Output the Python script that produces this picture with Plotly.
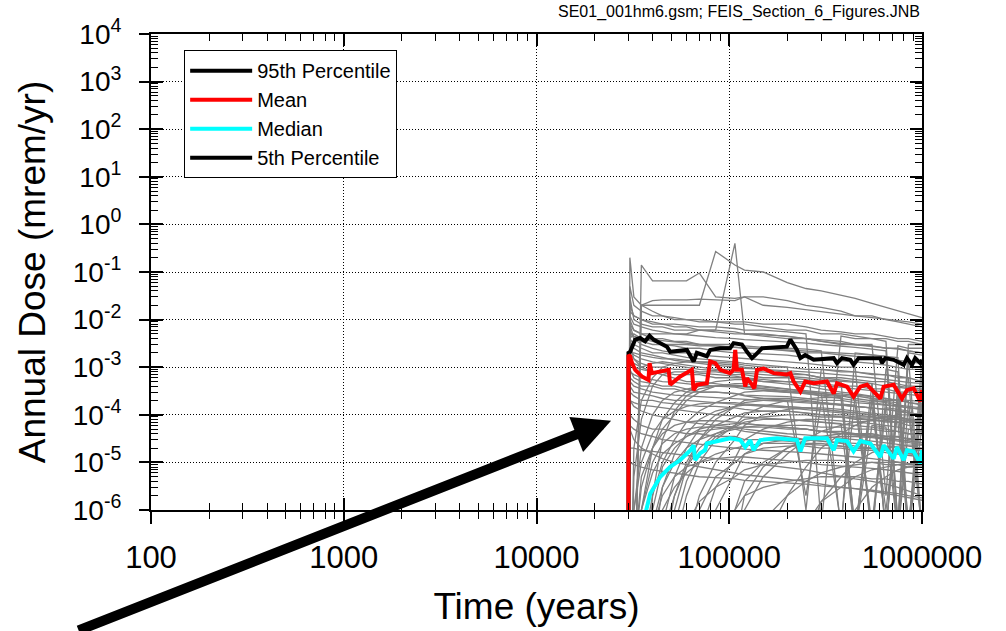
import plotly.graph_objects as go

# ---------------- data ----------------
TIME_YEARS = [30000, 30500, 32000, 35000, 40000, 45000, 52000, 60000, 70000, 85000,
              107000, 120000, 150000, 200000, 250000, 300000, 380000, 450000, 550000,
              650000, 750000, 850000, 1000000]

REALIZATIONS = [
    [1e-9, 0.2, 0.03, 0.02, 0.015, 0.012, 0.01, 0.01, 0.009, 0.009, 0.008, 0.008, 0.007, 0.006, 0.006, 0.005, 0.005, 0.0045, 0.004, 0.004, 0.0035, 0.0035, 0.003],
    [1e-9, 1e-9, 1e-9, 0.14, 0.065, 0.065, 0.065, 0.065, 0.095, 0.03, 0.028, 0.03, 0.03, 0.025, 0.02, 0.018, 0.015, 0.012, 0.012, 0.01, 0.009, 0.008, 0.007],
    [1e-9, 1e-9, 1e-9, 0.02, 0.02, 0.02, 0.02, 0.02, 0.02, 0.27, 0.14, 0.11, 0.1, 0.06, 0.045, 0.04, 0.033, 0.028, 0.022, 0.018, 0.015, 0.013, 0.011],
    [1e-9, 0.008, 0.006, 0.005, 0.005, 0.005, 0.005, 0.005, 0.006, 0.006, 0.4, 0.005, 0.0045, 0.004, 0.004, 0.0035, 0.003, 0.003, 0.0028, 0.0025, 0.0025, 0.0022, 0.002],
    [1e-9, 1e-9, 1e-9, 0.02, 0.025, 0.026, 0.026, 0.026, 0.027, 0.026, 0.025, 0.03, 0.02, 0.018, 0.016, 0.015, 0.013, 0.012, 0.011, 0.01, 0.0095, 0.009, 0.008],
    [1e-9, 0.05, 0.02, 0.015, 0.012, 0.012, 0.011, 0.01, 0.01, 0.009, 0.009, 0.009, 0.008, 0.008, 0.007, 0.006, 0.0055, 0.005, 0.005, 0.0045, 0.004, 0.004, 0.0035],
    [1e-9, 0.03, 0.01, 0.008, 0.007, 0.007, 0.006, 0.006, 0.006, 0.0055, 0.005, 0.005, 0.0048, 0.0045, 0.004, 0.0038, 0.0035, 0.003, 0.003, 2e-6, 0.0028, 0.0025, 0.0025],
    [1e-9, 0.015, 0.012, 0.01, 0.009, 0.008, 0.008, 0.0075, 0.007, 0.007, 0.0065, 0.006, 0.006, 0.0055, 0.005, 5e-7, 0.0045, 0.004, 0.004, 0.0035, 5e-7, 0.003, 0.003],
    [1e-9, 0.004, 0.005, 0.004, 0.0035, 0.003, 0.003, 0.003, 0.0028, 0.0028, 0.0026, 0.0025, 0.0025, 0.0022, 0.002, 0.002, 0.0018, 0.0017, 0.0016, 0.0015, 0.0014, 0.0013, 0.0012],
    [1e-9, 0.002, 0.002, 0.0018, 0.0016, 0.0015, 0.0015, 0.0014, 0.0013, 0.0013, 0.0012, 0.0011, 0.001, 0.001, 0.0009, 0.0009, 0.0008, 0.0008, 0.0007, 0.0007, 0.0006, 0.0006, 0.0005],
    [1e-9, 0.0012, 0.001, 0.0009, 0.0008, 0.0008, 0.0007, 0.0007, 0.0007, 0.0006, 0.0006, 0.0006, 0.0005, 0.0005, 0.0005, 0.00045, 0.0004, 0.0004, 0.00035, 0.00035, 0.0003, 0.0003, 0.0003],
    [1e-9, 0.0006, 0.0005, 0.0004, 0.0004, 0.00035, 0.00035, 0.0003, 0.0003, 0.0003, 0.00028, 0.00026, 0.00025, 0.00024, 0.00022, 0.0002, 0.0002, 0.00018, 0.00017, 0.00016, 0.00015, 0.00014, 0.00013],
    [1e-9, 0.0003, 0.00025, 0.0002, 0.0002, 0.00018, 0.00017, 0.00016, 0.00015, 0.00015, 0.00014, 0.00013, 0.00012, 0.00012, 0.00011, 0.0001, 0.0001, 9e-5, 9e-5, 8e-5, 8e-5, 7e-5, 7e-5],
    [1e-9, 1e-9, 1e-6, 1e-5, 4e-5, 8e-5, 1.2e-4, 1.5e-4, 1.7e-4, 1.8e-4, 1.8e-4, 1.7e-4, 1.6e-4, 1.5e-4, 1.4e-4, 1.3e-4, 1.2e-4, 1.1e-4, 1e-4, 9e-5, 9e-5, 8e-5, 8e-5],
    [1e-9, 1e-9, 1e-9, 1e-6, 6e-6, 1.5e-5, 2.5e-5, 3.5e-5, 4.5e-5, 5e-5, 5.5e-5, 5.5e-5, 5.5e-5, 5e-5, 5e-5, 4.5e-5, 4.5e-5, 4e-5, 4e-5, 3.5e-5, 3.5e-5, 3e-5, 3e-5],
    [1e-9, 1e-9, 1e-9, 1e-9, 1e-7, 1e-6, 3e-6, 6e-6, 1e-5, 1.5e-5, 2e-5, 2.2e-5, 2.5e-5, 2.5e-5, 2.4e-5, 2.3e-5, 2.2e-5, 2e-5, 2e-5, 1.8e-5, 1.7e-5, 1.6e-5, 1.5e-5],
    [1e-9, 1e-9, 1e-9, 1e-9, 1e-9, 1e-8, 1e-7, 5e-7, 1.5e-6, 3e-6, 5e-6, 7e-6, 9e-6, 1e-5, 1.1e-5, 1.1e-5, 1.1e-5, 1e-5, 1e-5, 9e-6, 9e-6, 8e-6, 8e-6],
    [1e-9, 1e-9, 1e-9, 1e-9, 1e-9, 1e-9, 1e-9, 1e-8, 1e-7, 5e-7, 1e-6, 2e-6, 3e-6, 4e-6, 4.5e-6, 5e-6, 5e-6, 5e-6, 4.5e-6, 4.5e-6, 4e-6, 4e-6, 3.5e-6],
    [1e-9, 1e-9, 1e-7, 5e-6, 2e-5, 5e-5, 1e-4, 2e-4, 3e-4, 4e-4, 4.5e-4, 4.5e-4, 4e-4, 3.5e-4, 3e-4, 2.8e-4, 2.5e-4, 2.2e-4, 2e-4, 1.8e-4, 1.6e-4, 1.5e-4, 1.4e-4],
    [1e-9, 1e-9, 1e-9, 1e-7, 2e-6, 1e-5, 3e-5, 7e-5, 1.2e-4, 1.8e-4, 2.5e-4, 3e-4, 3.2e-4, 3e-4, 2.8e-4, 2.5e-4, 2.2e-4, 2e-4, 1.8e-4, 1.6e-4, 1.5e-4, 1.4e-4, 1.3e-4],
    [1e-9, 1e-9, 1e-9, 1e-9, 1e-8, 3e-7, 2e-6, 8e-6, 2e-5, 4e-5, 6e-5, 8e-5, 9e-5, 1e-4, 1e-4, 9e-5, 9e-5, 8e-5, 8e-5, 7e-5, 7e-5, 6e-5, 6e-5],
    [1e-9, 0.0009, 0.0006, 0.0005, 0.00045, 0.0004, 0.0004, 0.00035, 0.0003, 0.0003, 0.00028, 0.00025, 0.00022, 0.0002, 2e-6, 0.00018, 0.00016, 0.00015, 0.00014, 1e-6, 0.00012, 0.00011, 0.0001],
    [1e-9, 0.003, 0.0015, 0.001, 0.0008, 0.0007, 0.0006, 0.0005, 0.0005, 0.00045, 0.0004, 0.0004, 0.00035, 0.0003, 0.0003, 0.00028, 5e-7, 0.00025, 0.00022, 0.0002, 0.0002, 5e-7, 0.00018],
    [1e-9, 1e-4, 8e-5, 6e-5, 5e-5, 5e-5, 4.5e-5, 4e-5, 4e-5, 3.5e-5, 3.5e-5, 3e-5, 3e-5, 2.8e-5, 2.5e-5, 2.5e-5, 2.2e-5, 2e-5, 2e-5, 1.8e-5, 1.7e-5, 1.6e-5, 1.5e-5],
    [1e-9, 5e-5, 3e-5, 2e-5, 1.5e-5, 1.2e-5, 1e-5, 9e-6, 8e-6, 7e-6, 6e-6, 5.5e-6, 5e-6, 4.5e-6, 4e-6, 3.5e-6, 3e-6, 2.8e-6, 2.5e-6, 2.2e-6, 2e-6, 1.8e-6, 1.6e-6],
    [1e-9, 1e-9, 1e-9, 1e-9, 1e-9, 1e-9, 1e-8, 2e-7, 2e-6, 1e-5, 3e-5, 6e-5, 1e-4, 1.3e-4, 1.4e-4, 1.4e-4, 1.3e-4, 1.2e-4, 1.1e-4, 1e-4, 9e-5, 8e-5, 7e-5],
    [1e-9, 1e-9, 1e-9, 1e-9, 1e-9, 1e-9, 1e-9, 1e-9, 1e-8, 1e-7, 1e-6, 4e-6, 1e-5, 2e-5, 2.8e-5, 3.2e-5, 3.5e-5, 3.5e-5, 3.3e-5, 3e-5, 2.8e-5, 2.6e-5, 2.4e-5],
    [1e-9, 1e-9, 1e-9, 1e-9, 1e-9, 1e-9, 1e-9, 1e-9, 1e-9, 1e-9, 1e-8, 1e-7, 6e-7, 2e-6, 4e-6, 6e-6, 8e-6, 9e-6, 1e-5, 1e-5, 1e-5, 9e-6, 9e-6],
    [1e-9, 0.006, 0.004, 0.0035, 0.003, 0.003, 0.0028, 0.0025, 0.0025, 0.0022, 0.002, 0.002, 0.0019, 0.0018, 0.0016, 0.0015, 0.0014, 0.0013, 0.0012, 0.0011, 0.001, 0.0009, 0.0009],
    [1e-9, 1e-9, 2e-5, 2e-4, 6e-4, 1e-3, 1.2e-3, 1.3e-3, 1.3e-3, 1.2e-3, 1.1e-3, 1e-3, 9e-4, 8e-4, 7e-4, 6e-4, 5.5e-4, 5e-4, 4.5e-4, 4e-4, 3.8e-4, 3.5e-4, 3.2e-4],
    [1e-9, 0.002, 0.0015, 0.0012, 0.001, 0.001, 0.0009, 0.0009, 0.0008, 0.0008, 0.0007, 0.0007, 0.0006, 0.0006, 0.00055, 0.0005, 0.0005, 3e-7, 0.00045, 3e-7, 0.0004, 3e-7, 0.00035],
    [1e-9, 1e-9, 1e-9, 1e-9, 1e-9, 1e-8, 2e-7, 2e-6, 1e-5, 3e-5, 6e-5, 1e-4, 1.5e-4, 2e-4, 2.2e-4, 2.3e-4, 2.3e-4, 3e-7, 2.2e-4, 2e-4, 3e-7, 1.8e-4, 1.7e-4],
    [1e-9, 2e-5, 2e-5, 1.8e-5, 1.7e-5, 1.6e-5, 1.5e-5, 1.4e-5, 1.3e-5, 1.2e-5, 1.1e-5, 1e-5, 9e-6, 8e-6, 7e-6, 6e-6, 5e-6, 4.5e-6, 4e-6, 3.5e-6, 3e-6, 2.5e-6, 2e-6],
    [1e-9, 1e-9, 1e-9, 1e-9, 1e-9, 1e-9, 1e-9, 1e-9, 1e-9, 1e-8, 1e-7, 1e-6, 5e-6, 1.5e-5, 3e-5, 4.5e-5, 6e-5, 7e-5, 7.5e-5, 7.5e-5, 7e-5, 7e-5, 6.5e-5],
    [1e-9, 1e-9, 1e-9, 1e-9, 1e-9, 1e-9, 1e-9, 1e-9, 1e-9, 1e-9, 1e-9, 1e-9, 1e-8, 1e-7, 5e-7, 1.5e-6, 3e-6, 5e-6, 7e-6, 8e-6, 9e-6, 9e-6, 9e-6],
    [1e-9, 0.01, 0.006, 0.005, 0.004, 0.004, 0.0035, 0.0035, 0.003, 0.003, 0.003, 0.0028, 0.0026, 0.0025, 0.0024, 0.0022, 4e-7, 0.002, 0.0018, 0.0017, 4e-7, 0.0016, 4e-7],
    [1e-9, 1e-9, 1e-6, 2e-5, 1e-4, 2e-4, 3e-4, 3.5e-4, 4e-4, 4e-4, 4e-4, 3.8e-4, 3.5e-4, 3.2e-4, 3e-4, 2.8e-4, 2.6e-4, 2.4e-4, 5e-7, 2.2e-4, 2e-4, 1.9e-4, 5e-7],
    [1e-9, 1e-9, 1e-9, 1e-8, 5e-7, 3e-6, 1e-5, 2e-5, 3e-5, 4e-5, 5e-5, 5.5e-5, 6e-5, 6e-5, 6e-5, 5.5e-5, 5.5e-5, 5e-5, 5e-5, 4.5e-5, 4.5e-5, 4e-5, 4e-5],
    [1e-9, 0.02, 0.012, 0.01, 0.008, 0.008, 0.007, 0.007, 0.006, 0.006, 0.0055, 0.005, 0.005, 0.0045, 0.004, 0.0035, 0.0032, 0.003, 0.0028, 0.0026, 0.0024, 0.0022, 0.002],
    [1e-9, 1e-9, 1e-9, 1e-9, 1e-9, 1e-9, 1e-9, 1e-7, 1e-6, 5e-6, 1e-5, 1.5e-5, 2e-5, 2.2e-5, 2.2e-5, 2e-5, 2e-5, 1.8e-5, 1.8e-5, 1.6e-5, 1.5e-5, 1.4e-5, 1.3e-5],
    [1e-9, 0.008, 0.004, 0.003, 0.0025, 0.0022, 0.002, 0.002, 0.0018, 0.0017, 0.0016, 0.0015, 0.0014, 0.0013, 0.0012, 0.0011, 0.001, 0.001, 2e-7, 0.0009, 0.0008, 2e-7, 0.0007],
    [1e-9, 0.0015, 0.0012, 0.001, 0.0012, 0.0013, 0.0012, 0.0011, 0.001, 0.0009, 0.0009, 0.0008, 0.0008, 0.0007, 0.0007, 0.0006, 0.0006, 0.00055, 0.0005, 0.0005, 0.00045, 0.0004, 0.0004],
    [1e-9, 0.0004, 0.0003, 0.00028, 0.00025, 0.00022, 0.0002, 0.0002, 0.00019, 0.00018, 0.00017, 0.00016, 0.00015, 0.00014, 0.00013, 0.00012, 0.00011, 0.0001, 9e-5, 8.5e-5, 8e-5, 7.5e-5, 7e-5],
    [1e-9, 1e-9, 5e-6, 8e-5, 4e-4, 7e-4, 8e-4, 8e-4, 7.5e-4, 7e-4, 6.5e-4, 6e-4, 5.5e-4, 5e-4, 4.5e-4, 4e-4, 3.8e-4, 3.5e-4, 3.2e-4, 3e-4, 2.8e-4, 2.6e-4, 2.5e-4],
    [1e-9, 1e-9, 1e-9, 1e-6, 2e-5, 8e-5, 1.8e-4, 3e-4, 4e-4, 5e-4, 5.5e-4, 5.5e-4, 5e-4, 4.5e-4, 4e-4, 3.5e-4, 3e-4, 2.8e-4, 2.5e-4, 2.2e-4, 2e-4, 1.8e-4, 1.6e-4],
    [1e-9, 1e-9, 1e-9, 1e-9, 1e-7, 3e-6, 1.5e-5, 4e-5, 8e-5, 1.2e-4, 1.5e-4, 1.6e-4, 1.6e-4, 1.5e-4, 1.4e-4, 1.3e-4, 1.2e-4, 1.1e-4, 1e-4, 9e-5, 8.5e-5, 8e-5, 7.5e-5],
    [1e-9, 1e-9, 1e-9, 1e-9, 1e-9, 1e-8, 5e-7, 4e-6, 1.5e-5, 3.5e-5, 5.5e-5, 7e-5, 8e-5, 8e-5, 7.5e-5, 7e-5, 6.5e-5, 6e-5, 5.5e-5, 5e-5, 4.5e-5, 4e-5, 3.8e-5],
    [1e-9, 2e-4, 1.5e-4, 1.2e-4, 1e-4, 9e-5, 8e-5, 7e-5, 6.5e-5, 6e-5, 5.5e-5, 5e-5, 4.5e-5, 4e-5, 3.8e-5, 3.5e-5, 3.2e-5, 3e-5, 2.8e-5, 2.6e-5, 2.4e-5, 2.2e-5, 2e-5],
    [1e-9, 1e-9, 1e-9, 1e-9, 1e-9, 1e-9, 1e-9, 1e-8, 3e-7, 3e-6, 1.2e-5, 3e-5, 5e-5, 7e-5, 8e-5, 8e-5, 7.5e-5, 7e-5, 6.5e-5, 6e-5, 5.5e-5, 5e-5, 4.5e-5],
    [1e-9, 1e-9, 1e-9, 1e-9, 1e-9, 1e-9, 1e-9, 1e-9, 1e-9, 1e-8, 2e-7, 2e-6, 8e-6, 2e-5, 3e-5, 3.5e-5, 4e-5, 4e-5, 3.8e-5, 3.6e-5, 3.4e-5, 3.2e-5, 3e-5],
    [1e-9, 0.004, 0.003, 0.0025, 0.002, 0.002, 0.0018, 0.0016, 0.0015, 0.0014, 0.0013, 0.0012, 0.0011, 0.001, 1e-6, 0.0009, 0.00085, 0.0008, 0.00075, 0.0007, 0.00065, 0.0006, 3e-7],
    [1e-9, 0.0008, 0.0007, 0.0006, 0.00055, 0.0005, 0.00048, 0.00045, 0.00042, 0.0004, 0.00038, 0.00035, 0.00033, 0.0003, 0.00028, 0.00026, 0.00024, 4e-7, 0.0002, 0.00019, 0.00018, 4e-7, 0.00016],
    [1e-9, 1e-9, 1e-7, 3e-6, 2e-5, 4e-5, 6e-5, 7e-5, 7.5e-5, 7.5e-5, 7e-5, 6.5e-5, 6e-5, 5.5e-5, 5e-5, 4.5e-5, 4e-5, 3.8e-5, 3.5e-5, 3.2e-5, 3e-5, 2.8e-5, 2.6e-5],
    [1e-9, 1e-9, 1e-9, 1e-8, 4e-7, 2e-6, 5e-6, 8e-6, 1e-5, 1.2e-5, 1.3e-5, 1.3e-5, 1.2e-5, 1.1e-5, 1e-5, 9e-6, 8.5e-6, 8e-6, 7.5e-6, 7e-6, 6.5e-6, 6e-6, 5.5e-6],
    [1e-9, 0.0025, 0.0018, 0.0015, 0.0013, 0.0012, 0.0011, 0.001, 0.0009, 0.00085, 0.0008, 0.00075, 0.0007, 0.00065, 0.0006, 0.00055, 0.0005, 0.00048, 0.00045, 3e-7, 0.0004, 0.00038, 0.00035],
    [1e-9, 1e-9, 1e-9, 1e-9, 1e-9, 1e-9, 1e-9, 1e-9, 1e-9, 1e-9, 1e-9, 1e-8, 2e-7, 2e-6, 8e-6, 2e-5, 4e-5, 6e-5, 8e-5, 9e-5, 1e-4, 1e-4, 1e-4],
    [1e-9, 0.012, 0.008, 0.007, 0.006, 0.0055, 0.005, 0.0048, 0.0045, 0.0042, 0.004, 0.0038, 0.0036, 0.0034, 0.0032, 0.003, 0.0028, 0.0026, 0.0024, 0.0022, 5e-7, 0.002, 0.0018],
    [1e-9, 1e-9, 1e-9, 1e-9, 1e-9, 2e-8, 1e-6, 8e-6, 3e-5, 8e-5, 1.5e-4, 2e-4, 2.2e-4, 2.2e-4, 2e-4, 1.8e-4, 1.6e-4, 1.5e-4, 1.4e-4, 1.3e-4, 1.2e-4, 1.1e-4, 1e-4],
    [1e-9, 6e-5, 5e-5, 4e-5, 3.5e-5, 3e-5, 2.8e-5, 2.6e-5, 2.4e-5, 2.2e-5, 2e-5, 1.9e-5, 1.8e-5, 1.7e-5, 1.6e-5, 1.5e-5, 1.4e-5, 1.3e-5, 1.2e-5, 1.1e-5, 1e-5, 9.5e-6, 9e-6],
    [1e-9, 1e-9, 1e-9, 1e-9, 1e-9, 1e-9, 1e-9, 1e-9, 1e-9, 1e-9, 1e-9, 1e-9, 1e-9, 1e-8, 2e-7, 1.5e-6, 5e-6, 1e-5, 1.6e-5, 2e-5, 2.2e-5, 2.3e-5, 2.3e-5],
    [1e-9, 0.0002, 0.00018, 0.00016, 0.00015, 0.00014, 0.00013, 0.00012, 0.00011, 0.0001, 9.5e-5, 9e-5, 8.5e-5, 8e-5, 7.5e-5, 7e-5, 6.5e-5, 3e-7, 6e-5, 5.5e-5, 3e-7, 5e-5, 4.5e-5],
    [1e-9, 1e-9, 1e-9, 1e-9, 2e-6, 3e-5, 1.2e-4, 2.5e-4, 3.5e-4, 4e-4, 4.2e-4, 4e-4, 3.8e-4, 3.5e-4, 3.2e-4, 3e-4, 2.8e-4, 2.6e-4, 2.4e-4, 4e-7, 2.1e-4, 2e-4, 1.9e-4],
    [1e-9, 1e-9, 1e-9, 1e-9, 1e-9, 1e-7, 2e-6, 1e-5, 3e-5, 6e-5, 9e-5, 1.1e-4, 1.2e-4, 1.2e-4, 1.1e-4, 1e-4, 9e-5, 8.5e-5, 8e-5, 7.5e-5, 7e-5, 3e-7, 6e-5],
    [1e-9, 0.0035, 0.0025, 0.002, 0.0018, 0.0016, 0.0014, 0.0013, 0.0012, 0.0011, 0.001, 0.00095, 0.0009, 0.00085, 0.0008, 0.00075, 0.0007, 0.00065, 0.0006, 0.00055, 0.0005, 0.00048, 0.00045],
    [1e-9, 1e-9, 1e-9, 1e-8, 1e-6, 8e-6, 2e-5, 3.5e-5, 5e-5, 6e-5, 6.5e-5, 6.5e-5, 6e-5, 5.5e-5, 5e-5, 4.5e-5, 4e-5, 3.8e-5, 3.5e-5, 3.2e-5, 3e-5, 2.8e-5, 2.6e-5],
    [1e-9, 1e-9, 1e-9, 1e-9, 1e-9, 1e-9, 1e-9, 1e-9, 5e-8, 1e-6, 6e-6, 1.5e-5, 2.5e-5, 3e-5, 3e-5, 2.8e-5, 2.6e-5, 2.5e-5, 2.4e-5, 2.2e-5, 2e-5, 1.9e-5, 1.8e-5],
    [1e-9, 0.005, 0.0045, 0.004, 0.0038, 0.0036, 0.0034, 0.0032, 0.003, 0.0028, 0.0026, 0.0025, 0.0024, 0.0023, 0.0022, 0.0021, 0.002, 0.0019, 0.0018, 0.0017, 0.0016, 3e-7, 0.0015],
    [1e-9, 1e-9, 1e-8, 1e-6, 1e-5, 2.5e-5, 4e-5, 5e-5, 5.5e-5, 5.5e-5, 5e-5, 4.5e-5, 4e-5, 3.5e-5, 3e-5, 2.8e-5, 2.5e-5, 2.2e-5, 2e-5, 1.8e-5, 1.6e-5, 1.5e-5, 1.4e-5],
    [1e-9, 1e-9, 1e-9, 1e-9, 1e-9, 1e-9, 1e-9, 1e-9, 1e-9, 1e-9, 1e-9, 1e-9, 1e-9, 1e-9, 1e-9, 1e-8, 2e-7, 1e-6, 3e-6, 5e-6, 7e-6, 8e-6, 9e-6],
    [1e-9, 0.0005, 0.0004, 0.00035, 0.0003, 0.00028, 0.00026, 0.00025, 0.00024, 0.00023, 0.00022, 0.00021, 0.0002, 0.00019, 0.00018, 0.00017, 0.00016, 0.00015, 0.00014, 0.00013, 0.00012, 0.00011, 0.0001],
    [1e-9, 1e-9, 1e-9, 1e-9, 1e-8, 5e-7, 5e-6, 2e-5, 5e-5, 1e-4, 1.5e-4, 1.8e-4, 2e-4, 2e-4, 1.9e-4, 1.8e-4, 1.7e-4, 1.6e-4, 4e-7, 1.4e-4, 1.3e-4, 1.2e-4, 4e-7],
    [1e-9, 1e-5, 9e-6, 8e-6, 7e-6, 6.5e-6, 6e-6, 5.5e-6, 5e-6, 4.8e-6, 4.5e-6, 4.2e-6, 4e-6, 3.8e-6, 3.5e-6, 3.2e-6, 3e-6, 2.8e-6, 2.6e-6, 2.4e-6, 2.2e-6, 2e-6, 1.8e-6],
]

P95_TIME = [30000, 30000, 30600, 32500, 34500, 36600, 38600, 40500, 43900, 47500, 49400, 60300,
            65300, 67900, 76500, 79600, 89800, 101000, 105300, 116400, 123600, 131200, 136500,
            147900, 199000, 207500, 224400, 233900, 247700, 274200, 348300, 362200, 384600,
            424600, 441600, 469000, 608100, 619700, 645000, 712800, 803500, 835600, 887200,
            922000, 980000, 1000000]
P95_DOSE = [1e-9, 2.0e-3, 2.1e-3, 3.8e-3, 4.1e-3, 3.5e-3, 4.6e-3, 3.8e-3, 3.2e-3, 2.7e-3, 2.1e-3, 2.3e-3,
            1.32e-3, 2.0e-3, 1.7e-3, 2.3e-3, 2.5e-3, 2.5e-3, 3.2e-3, 3.0e-3, 2.1e-3, 1.55e-3, 1.8e-3,
            2.5e-3, 2.7e-3, 3.8e-3, 2.3e-3, 1.55e-3, 1.8e-3, 1.43e-3, 1.55e-3, 1.22e-3, 1.55e-3,
            1.43e-3, 1.12e-3, 1.55e-3, 1.55e-3, 1.22e-3, 1.55e-3, 1.43e-3, 1.12e-3, 1.55e-3, 1.12e-3,
            1.55e-3, 1.22e-3, 1.43e-3]

MEAN_TIME = [30000, 30000, 30600, 31300, 32500, 35200, 38100, 38600, 39700, 43900, 48500, 49400,
             52500, 55700, 64000, 65300, 67900, 76500, 79600, 84600, 89800, 101000, 105300, 107400,
             109600, 116400, 121100, 123600, 131200, 134900, 139300, 150700, 169900, 199000, 207500,
             215900, 233900, 247700, 274200, 321300, 348300, 362200, 408300, 441600, 478600, 518400,
             608100, 632400, 712800, 787000, 835600, 905000, 980000, 1000000]
MEAN_DOSE = [1e-9, 1.8e-3, 1.7e-3, 1.22e-3, 8.8e-4, 6.4e-4, 5.4e-4, 1.22e-3, 7.5e-4, 8.1e-4, 8.8e-4, 4.3e-4,
             5.4e-4, 6.4e-4, 8.8e-4, 3.3e-4, 4.3e-4, 4.6e-4, 1.32e-3, 1.22e-3, 8.8e-4, 7.5e-4, 8.8e-4, 2.3e-3,
             8.8e-4, 8.8e-4, 3.9e-4, 5.9e-4, 4.3e-4, 3.6e-4, 8.8e-4, 9.4e-4, 7.5e-4, 7e-4, 7.5e-4,
             5e-4, 3.1e-4, 5e-4, 4.6e-4, 5e-4, 2.8e-4, 4.6e-4, 3.9e-4, 2.4e-4, 3.9e-4, 4.3e-4,
             2.2e-4, 3.9e-4, 4.3e-4, 2.2e-4, 3.3e-4, 3.6e-4, 1.9e-4, 3.3e-4]

MEDIAN_TIME = [36600, 38900, 43900, 49400, 55700, 62900, 65300, 66600, 70600, 74900, 76500, 89800,
               101000, 114000, 121100, 128500, 133700, 144800, 176700, 224400, 233900, 247700, 321300,
               348300, 362200, 408300, 441600, 478600, 539900, 608100, 632400, 712800, 741300, 803500,
               835600, 905000, 980000, 1000000]
MEDIAN_DOSE = [8e-7, 2.2e-6, 5.0e-6, 8.1e-6, 1.12e-5, 1.8e-5, 2.3e-5, 1.12e-5, 1.55e-5, 1.8e-5, 2.5e-5, 2.95e-5,
               3.2e-5, 2.95e-5, 2.1e-5, 2.95e-5, 1.8e-5, 2.95e-5, 3.2e-5, 2.95e-5, 1.7e-5, 3.2e-5, 3.2e-5,
               1.8e-5, 2.95e-5, 2.8e-5, 1.7e-5, 2.8e-5, 2.5e-5, 1.3e-5, 2.3e-5, 1.2e-5, 2.1e-5, 1.12e-5,
               1.8e-5, 1.7e-5, 9.5e-6, 1.8e-5]

# 5th percentile lies entirely below the plotted range
P05_TIME = [30000, 1000000]
P05_DOSE = [1e-8, 1e-8]

X_TICKS = [100, 1000, 10000, 100000, 1000000]
X_TICK_LABELS = ["100", "1000", "10000", "100000", "1000000"]
Y_TICKS = [1e-6, 1e-5, 1e-4, 1e-3, 1e-2, 1e-1, 1e0, 1e1, 1e2, 1e3, 1e4]
Y_TICK_LABELS = ["10<sup>-6</sup>", "10<sup>-5</sup>", "10<sup>-4</sup>", "10<sup>-3</sup>",
                 "10<sup>-2</sup>", "10<sup>-1</sup>", "10<sup>0</sup>", "10<sup>1</sup>",
                 "10<sup>2</sup>", "10<sup>3</sup>", "10<sup>4</sup>"]

FONT = "Arial, 'Liberation Sans', sans-serif"

fig = go.Figure()

for dose in REALIZATIONS:
    fig.add_trace(go.Scatter(x=TIME_YEARS, y=dose, mode="lines",
                             line=dict(color="#808080", width=1.3),
                             showlegend=False, hoverinfo="skip"))

fig.add_trace(go.Scatter(x=P95_TIME, y=P95_DOSE, mode="lines", name="95th Percentile",
                         line=dict(color="black", width=4)))
fig.add_trace(go.Scatter(x=MEAN_TIME, y=MEAN_DOSE, mode="lines", name="Mean",
                         line=dict(color="#ff0000", width=4)))
fig.add_trace(go.Scatter(x=MEDIAN_TIME, y=MEDIAN_DOSE, mode="lines", name="Median",
                         line=dict(color="#00ffff", width=4)))
fig.add_trace(go.Scatter(x=P05_TIME, y=P05_DOSE, mode="lines", name="5th Percentile",
                         line=dict(color="black", width=4)))

# empty helper traces so the inner-tick overlay axes get drawn
fig.add_trace(go.Scatter(x=[None], y=[None], xaxis="x2", yaxis="y",
                         showlegend=False, hoverinfo="skip"))
fig.add_trace(go.Scatter(x=[None], y=[None], xaxis="x", yaxis="y2",
                         showlegend=False, hoverinfo="skip"))

fig.update_layout(
    width=1006, height=631,
    margin=dict(l=151, r=84, t=34, b=121),
    plot_bgcolor="white", paper_bgcolor="white",
    font=dict(family=FONT, color="black"),
    xaxis=dict(
        type="log", range=[2, 6], automargin=False,
        showline=True, linecolor="black", linewidth=2, mirror=True,
        ticks="outside", ticklen=12, tickwidth=1.5, tickcolor="black",
        tickmode="array", tickvals=X_TICKS, ticktext=X_TICK_LABELS,
        tickfont=dict(size=31), ticklabelstandoff=7,
        showgrid=True, gridcolor="black", griddash="1px,2px", gridwidth=1,
        minor=dict(ticks="outside", ticklen=7, tickwidth=1.2, tickcolor="black", dtick="D1"),
        title=dict(text="Time (years)", font=dict(size=37), standoff=19),
        zeroline=False,
    ),
    xaxis2=dict(
        type="log", range=[2, 6], overlaying="x", anchor="y", side="bottom",
        automargin=False, showline=False, showgrid=False, zeroline=False,
        showticklabels=False, mirror="ticks",
        ticks="inside", ticklen=12, tickwidth=1.5, tickcolor="black", dtick=1,
        minor=dict(ticks="inside", ticklen=7, tickwidth=1.2, tickcolor="black", dtick="D1"),
    ),
    yaxis=dict(
        type="log", range=[-6, 4], automargin=False,
        showline=True, linecolor="black", linewidth=2, mirror=True,
        ticks="outside", ticklen=10, tickwidth=1.5, tickcolor="black",
        tickmode="array", tickvals=Y_TICKS, ticktext=Y_TICK_LABELS,
        tickfont=dict(size=28), ticklabelstandoff=12,
        showgrid=True, gridcolor="black", griddash="1px,2px", gridwidth=1,
        title=dict(text="Annual Dose (mrem/yr)", font=dict(size=37), standoff=16),
        zeroline=False,
    ),
    yaxis2=dict(
        type="log", range=[-6, 4], overlaying="y", anchor="x", side="left",
        automargin=False, showline=False, showgrid=False, zeroline=False,
        showticklabels=False, mirror="ticks",
        ticks="inside", ticklen=12, tickwidth=1.5, tickcolor="black", dtick=1,
        minor=dict(ticks="inside", ticklen=7, tickwidth=1.2, tickcolor="black", dtick="D1"),
    ),
    legend=dict(
        x=0.043, y=0.966, xanchor="left", yanchor="top",
        bgcolor="white", bordercolor="black", borderwidth=1,
        font=dict(size=20), itemwidth=62, tracegroupgap=0,
    ),
    showlegend=True,
)

# File reference note at the top right
fig.add_annotation(text="SE01_001hm6.gsm; FEIS_Section_6_Figures.JNB",
                   xref="paper", yref="paper", x=1.0, y=1.046,
                   xanchor="right", yanchor="middle", showarrow=False,
                   font=dict(size=16, family=FONT))

# Large pointer arrow
fig.add_annotation(x=4.387, y=-4.126, xref="x", yref="y",
                   ax=-534, ay=222, axref="pixel", ayref="pixel",
                   text="", showarrow=True, arrowhead=2, arrowsize=0.75,
                   arrowwidth=10, arrowcolor="black", standoff=0)

fig.write_html("out.html", config={"displayModeBar": False},
               post_script="document.body.style.margin='0px';")
